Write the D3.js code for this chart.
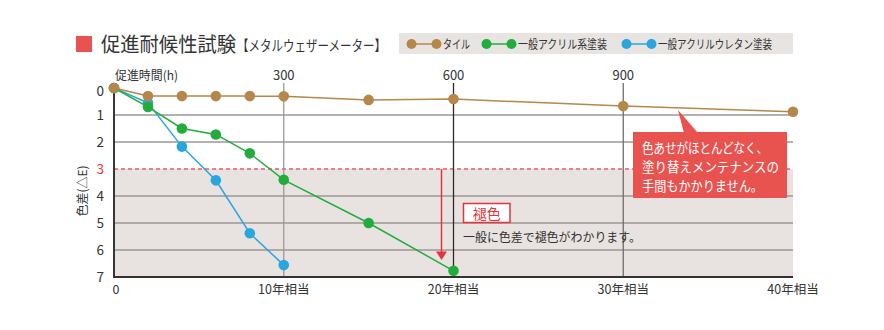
<!DOCTYPE html>
<html>
<head>
<meta charset="utf-8">
<script src="https://cdn.jsdelivr.net/npm/d3@7"></script>
<style>
  html, body { margin: 0; padding: 0; background: #fff; }
  svg { display: block; font-family: "Noto Sans CJK JP", "Noto Sans", sans-serif; }
</style>
</head>
<body>
<svg id="chart" width="884" height="330"></svg>
<script>
// Accelerated weathering test: colour difference (ΔE) vs. exposure hours
const hoursTile    = [0, 60, 120, 180, 240, 300, 450, 600, 900, 1200];
const deltaTile    = [0, 0.30, 0.30, 0.30, 0.30, 0.31, 0.44, 0.41, 0.67, 0.88];
const hoursAcryl   = [0, 60, 120, 180, 240, 300, 450, 600];
const deltaAcryl   = [0, 0.70, 1.50, 1.72, 2.42, 3.40, 5.00, 6.77];
const hoursUrethane = [0, 60, 120, 180, 240, 300];
const deltaUrethane = [0, 0.55, 2.17, 3.42, 5.38, 6.56];

const seriesNames  = ["タイル", "一般アクリル系塗装", "一般アクリルウレタン塗装"];
const seriesColors = ["#b5884a", "#23ac3e", "#2aa6df"];

const topTickHours   = [300, 600, 900];
const bottomTickHours  = [0, 300, 600, 900, 1200];
const bottomTickLabels = ["0", "10年相当", "20年相当", "30年相当", "40年相当"];
const yTicks = [0, 1, 2, 3, 4, 5, 6, 7];
const fadeThreshold = 3;

const svg = d3.select("#chart");

const x = d3.scaleLinear().domain([0, 1200]).range([114, 793]);
const y = d3.scaleLinear().domain([0, 7]).range([88, 277]);

// fits a text node to a given width (condensed Japanese typesetting)
function fit(sel, w) {
  return sel.attr("textLength", w).attr("lengthAdjust", "spacingAndGlyphs");
}

// ---- Title ----
svg.append("rect").attr("x", 76).attr("y", 36).attr("width", 16).attr("height", 16).attr("fill", "#e8524f");
fit(svg.append("text").attr("x", 101).attr("y", 52).attr("fill", "#333")
  .attr("font-size", 20).text("促進耐候性試験"), 135);
fit(svg.append("text").attr("x", 237).attr("y", 51).attr("fill", "#333")
  .attr("font-size", 14.5).text("【メタルウェザーメーター】"), 149);

// ---- Legend ----
svg.append("rect").attr("x", 399).attr("y", 33).attr("width", 394).attr("height", 21).attr("fill", "#e8e4e1");
const legendX = [411.5, 486.5, 626.5];
const legendW = [27, 89, 114];
seriesNames.forEach((name, i) => {
  const g = svg.append("g").attr("transform", `translate(${legendX[i]},44)`);
  g.append("line").attr("x1", 0).attr("x2", 25).attr("y1", 0).attr("y2", 0)
    .attr("stroke", seriesColors[i]).attr("stroke-width", 1.5);
  g.selectAll("circle").data([0, 25]).join("circle")
    .attr("cx", d => d).attr("cy", 0).attr("r", 5).attr("fill", seriesColors[i]);
  fit(g.append("text").attr("x", 31.5).attr("y", 4.5).attr("font-size", 12)
    .attr("fill", "#333").text(name), legendW[i]);
});

// ---- Plot background below the fading threshold ----
svg.append("rect")
  .attr("x", x(0)).attr("y", y(fadeThreshold))
  .attr("width", x(1200) - x(0)).attr("height", y(7) - y(fadeThreshold))
  .attr("fill", "#e8e3e0");

// horizontal grid lines
svg.append("g").selectAll("line")
  .data(yTicks.filter(v => v !== 0 && v !== 7 && v !== fadeThreshold))
  .join("line")
  .attr("x1", x(0)).attr("x2", x(1200))
  .attr("y1", d => y(d)).attr("y2", d => y(d))
  .attr("stroke", "#9c9795").attr("stroke-width", 1.5);

// threshold dashed line
svg.append("line")
  .attr("x1", x(0)).attr("x2", x(1200))
  .attr("y1", y(fadeThreshold)).attr("y2", y(fadeThreshold))
  .attr("stroke", "#ea5a62").attr("stroke-width", 1.3).attr("stroke-dasharray", "4,3");

// vertical reference lines at 300/600/900 h
const vColors = ["#9a9a9a", "#2b2b2b", "#6e6e6e"];
svg.append("g").selectAll("line")
  .data(topTickHours)
  .join("line")
  .attr("x1", d => x(d)).attr("x2", d => x(d))
  .attr("y1", 83).attr("y2", y(7))
  .attr("stroke", (d, i) => vColors[i]).attr("stroke-width", 1.3);

// axes lines
svg.append("line").attr("x1", x(0)).attr("x2", x(0)).attr("y1", y(0)).attr("y2", y(7) + 1)
  .attr("stroke", "#222").attr("stroke-width", 1.8);
svg.append("line").attr("x1", x(0)).attr("x2", x(1200)).attr("y1", y(7)).attr("y2", y(7))
  .attr("stroke", "#333").attr("stroke-width", 2);

// top tick labels
fit(svg.append("text").attr("x", 115).attr("y", 80).attr("font-size", 12.5)
  .attr("fill", "#333").text("促進時間(h)"), 63);
svg.append("g").selectAll("text")
  .data(topTickHours)
  .join("text")
  .attr("x", d => x(d)).attr("y", 80)
  .attr("text-anchor", "middle").attr("font-size", 13).attr("fill", "#333")
  .text(d => d);

// y tick labels
svg.append("g").selectAll("text")
  .data(yTicks)
  .join("text")
  .attr("x", 104).attr("y", d => y(d) + (d === 0 ? 7.5 : 5))
  .attr("text-anchor", "end").attr("font-size", 13.5)
  .attr("fill", d => d === fadeThreshold ? "#e8333a" : "#333")
  .text(d => d);

// y axis title
svg.append("text")
  .attr("transform", "translate(87,191) rotate(-90)")
  .attr("text-anchor", "middle").attr("font-size", 12).attr("fill", "#333")
  .text("色差(△E)");

// bottom tick labels
svg.append("g").selectAll("text")
  .data(bottomTickHours)
  .join("text")
  .attr("x", (d, i) => x(d) + (i === 0 ? 2 : 0)).attr("y", 294)
  .attr("text-anchor", "middle").attr("font-size", 12.5).attr("fill", "#333")
  .text((d, i) => bottomTickLabels[i]);

// ---- Fading annotation ----
const arrowX = 441.5;
svg.append("line").attr("x1", arrowX).attr("x2", arrowX)
  .attr("y1", y(fadeThreshold)).attr("y2", 253)
  .attr("stroke", "#e8333a").attr("stroke-width", 1.5);
svg.append("path")
  .attr("d", `M${arrowX - 5.5},251.5 L${arrowX + 5.5},251.5 L${arrowX},260 Z`)
  .attr("fill", "#e8333a");

svg.append("rect").attr("x", 463.5).attr("y", 203.5).attr("width", 46.5).attr("height", 19)
  .attr("fill", "#fff").attr("stroke", "#e8333a").attr("stroke-width", 1.5);
svg.append("text").attr("x", 486.7).attr("y", 218.5).attr("text-anchor", "middle")
  .attr("font-size", 14).attr("fill", "#e8333a").text("褪色");
fit(svg.append("text").attr("x", 463).attr("y", 242).attr("font-size", 12.5).attr("fill", "#333")
  .text("一般に色差で褪色がわかります。"), 178);

// ---- Series ----
const series = [
  { hours: hoursUrethane, values: deltaUrethane, color: seriesColors[2] },
  { hours: hoursAcryl,    values: deltaAcryl,    color: seriesColors[1] },
  { hours: hoursTile,     values: deltaTile,     color: seriesColors[0] }
];
const line = d3.line().x(d => x(d[0])).y(d => y(d[1]));
series.forEach(s => {
  const pts = s.hours.map((h, i) => [h, s.values[i]]);
  svg.append("path").datum(pts).attr("d", line)
    .attr("fill", "none").attr("stroke", s.color).attr("stroke-width", 1.5);
});
series.forEach(s => {
  const pts = s.hours.map((h, i) => [h, s.values[i]]);
  svg.append("g").selectAll("circle").data(pts).join("circle")
    .attr("cx", d => x(d[0])).attr("cy", d => y(d[1])).attr("r", 5.3)
    .attr("fill", s.color);
});

// ---- Callout for tile ----
svg.append("path")
  .attr("d", "M678,110 L684,133 L698,133 Z")
  .attr("fill", "#e8534f");
svg.append("rect").attr("x", 633).attr("y", 132).attr("width", 154).attr("height", 66)
  .attr("fill", "#e8534f");
const callout = ["色あせがほとんどなく、", "塗り替えメンテナンスの", "手間もかかりません。"];
const calloutW = [126, 137, 121];
svg.append("g").selectAll("text").data(callout).join("text")
  .attr("x", 642).attr("y", (d, i) => 153 + i * 19)
  .attr("font-size", 13.5).attr("fill", "#fff")
  .attr("textLength", (d, i) => calloutW[i]).attr("lengthAdjust", "spacingAndGlyphs")
  .text(d => d);
</script>
</body>
</html>
